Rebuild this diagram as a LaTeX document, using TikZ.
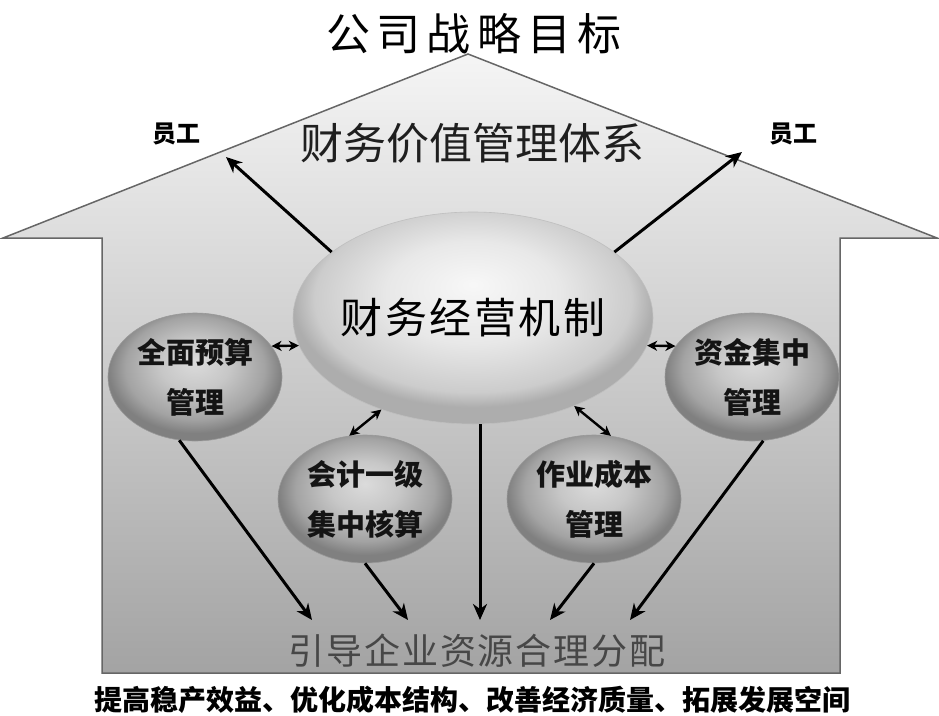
\documentclass[tikz,border=0pt]{standalone}
\usepackage{fontspec}
\setmainfont{Noto Sans CJK SC}
\usetikzlibrary{shapes.geometric,arrows.meta}
\pgfdeclareradialshading{smallballsh}{\pgfpoint{0bp}{6bp}}{color(0bp)=(black!14); color(10bp)=(black!22); color(20bp)=(black!36); color(25bp)=(black!50); color(50bp)=(black!50)}
\pgfdeclareradialshading{bigballsh}{\pgfpoint{0bp}{8bp}}{color(0bp)=(black!3); color(12bp)=(black!9); color(22bp)=(black!20); color(25bp)=(black!32); color(50bp)=(black!32)}
\tikzset{
  housesty/.style={draw=black!60, line width=1.5pt, top color=black!4, bottom color=black!36},
  bigball/.style={ellipse, minimum width=360pt, minimum height=212pt, inner sep=0pt, shading=bigballsh, draw=black!25, line width=0.6pt},
  smallball/.style={ellipse, minimum width=174pt, minimum height=128pt, inner sep=0pt, shading=smallballsh, draw=black!40, line width=0.6pt},
  balltext/.style={font=\fontsize{29}{50}\selectfont\bfseries, align=center, text=black!92},
  arr/.style={-{Stealth[length=16pt,width=14pt,inset=5pt]}, line width=3pt},
  dbl/.style={{Stealth[length=10pt,width=10pt,inset=3pt]}-{Stealth[length=10pt,width=10pt,inset=3pt]}, line width=2.4pt},
  bigtext/.style={inner sep=0pt}
}
\begin{document}
\begin{tikzpicture}[x=1pt,y=-1pt]
\useasboundingbox (0,0) rectangle (939,715);
% house
\draw[housesty] (3,238) -- (468,54) -- (937,238) -- (840,238) -- (840,673) -- (102,673) -- (102,238) -- cycle;
% texts
\node[bigtext, font=\fontsize{44}{44}\selectfont\addfontfeatures{LetterSpace=14}] (title) at (474,34) {公司战略目标};
\node[bigtext, font=\fontsize{43}{43}\selectfont, text=black!88] (sys) at (472,143) {财务价值管理体系};
\node[bigtext, font=\fontsize{24}{24}\selectfont\bfseries] (em1) at (176,134) {员工};
\node[bigtext, font=\fontsize{24}{24}\selectfont\bfseries] (em2) at (793,134) {员工};
\node[bigtext, font=\fontsize{36}{36}\selectfont\addfontfeatures{LetterSpace=5}, text=black!72] (res) at (477,651) {引导企业资源合理分配};
\node[bigtext, font=\fontsize{28}{28}\selectfont\bfseries] (cap) at (472,700) {提高稳产效益、优化成本结构、改善经济质量、拓展发展空间};
% balls
\node[bigball] (main) at (473,318) {};
\node[smallball] (b1) at (195,377) {};
\node[smallball] (b2) at (365,499) {};
\node[smallball] (b3) at (594,499) {};
\node[smallball] (b4) at (752,377) {};
\node[bigtext, font=\fontsize{42}{42}\selectfont\addfontfeatures{LetterSpace=6}, text=black] (maintxt) at (main) {财务经营机制};
\node[balltext] (t1) at (b1) {全面预算\\管理};
\node[balltext] (t2) at (b2) {会计一级\\集中核算};
\node[balltext] (t3) at (b3) {作业成本\\管理};
\node[balltext] (t4) at (b4) {资金集中\\管理};
% free ends
\coordinate (up1) at (226,157);
\coordinate (up2) at (742,152);
\coordinate (d1) at (312,620);
\coordinate (d2) at (408,620);
\coordinate (d3) at (480,620);
\coordinate (d4) at (550,620);
\coordinate (d5) at (630,620);
% connectors
\draw[arr] (main.155) -- (up1);
\draw[arr] (main.25) -- (up2);
\draw[dbl] (b1.22) -- (main.189);
\draw[dbl] (main.351) -- (b4.158);
\draw[dbl] (b2.104) -- (main.225);
\draw[dbl] (main.319) -- (b3.75);
\draw[arr] (b1.256) -- (d1);
\draw[arr] (b2.south) -- (d2);
\draw[arr] (main.south -| d3) -- (d3);
\draw[arr] (b3.south) -- (d4);
\draw[arr] (b4.280) -- (d5);
\end{tikzpicture}
\end{document}
